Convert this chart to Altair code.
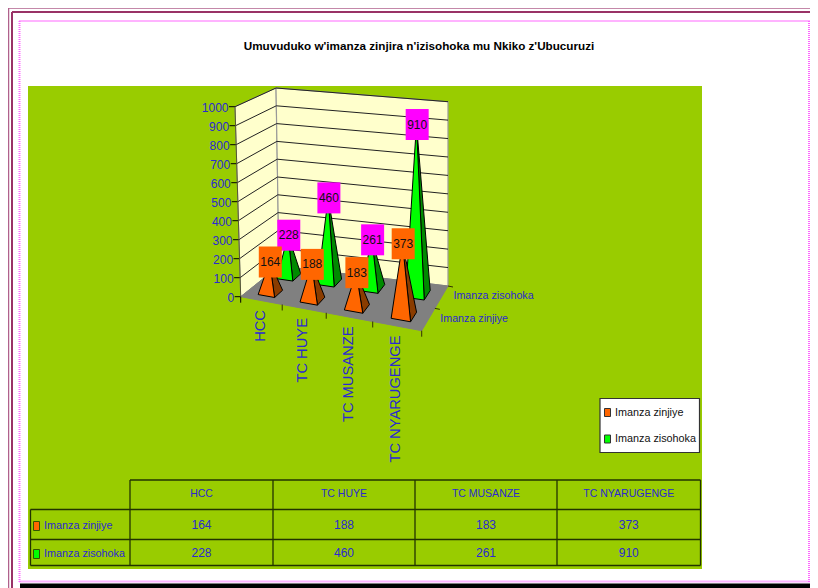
import altair as alt
import pandas as pd

title = "Umuvuduko w'imanza zinjira n'izisohoka mu Nkiko z'Ubucuruzi"
categories = ["HCC", "TC HUYE", "TC MUSANZE", "TC NYARUGENGE"]
series = ["Imanza zinjiye", "Imanza zisohoka"]
zinjiye = [164, 188, 183, 373]
zisohoka = [228, 460, 261, 910]
ticks = list(range(0, 1001, 100))

BLUE = "#2A2AD0"
GREEN_BG = "#99CC00"
NARROW = "Liberation Sans"
SANS = "Liberation Sans"

XS = alt.Scale(domain=[8, 810], nice=False, zero=False)
YS = alt.Scale(domain=[588, 8], nice=False, zero=False)
X = lambda f="x": alt.X(f + ":Q", scale=XS, axis=None)
Y = lambda f="y": alt.Y(f + ":Q", scale=YS, axis=None)

# corners of the 3-D box as drawn: floor then top
F00, F10, F01, F11 = (240.7, 296.7), (421.7, 330.7), (279, 266), (448, 286)
T00, T10, T01, T11 = (235, 106.7), (417, 134), (276, 88), (448, 101.7)


def warp(u):
    return u - 0.11 * u * (1 - u)


def bil(a, b, c, d, u, v):
    return tuple(
        a[i] * (1 - u) * (1 - v) + b[i] * u * (1 - v) + c[i] * (1 - u) * v + d[i] * u * v
        for i in (0, 1)
    )


def proj(u, v, h=0.0):
    u = warp(u)
    f = bil(F00, F10, F01, F11, u, v)
    t = bil(T00, T10, T01, T11, u, v)
    return (f[0] + (t[0] - f[0]) * h, f[1] + (t[1] - f[1]) * h)


layers = []


def poly(pts, fill, stroke=None, sw=1.0):
    df = pd.DataFrame({"x": [p[0] for p in pts], "y": [p[1] for p in pts], "o": range(len(pts))})
    kw = dict(fill=fill, interpolate="linear-closed", clip=True)
    kw.update(stroke=stroke or fill, strokeWidth=sw)
    layers.append(alt.Chart(df).mark_line(**kw).encode(x=X(), y=Y(), order="o:Q"))


def seg(a, b, color, sw=1.0, dash=None):
    df = pd.DataFrame({"x": [a[0], b[0]], "y": [a[1], b[1]], "o": [0, 1]})
    kw = dict(color=color, strokeWidth=sw, clip=True)
    if dash:
        kw["strokeDash"] = dash
    layers.append(alt.Chart(df).mark_line(**kw).encode(x=X(), y=Y(), order="o:Q"))


def rect(x0, y0, x1, y1, fill, stroke=None, sw=1.0):
    df = pd.DataFrame({"x": [x0], "x2": [x1], "y": [y0], "y2": [y1]})
    kw = dict(fill=fill)
    if stroke:
        kw.update(stroke=stroke, strokeWidth=sw)
    layers.append(
        alt.Chart(df).mark_rect(**kw).encode(x=X(), x2="x2:Q", y=Y(), y2="y2:Q")
    )


def text(x, y, s, size=11, color=BLUE, font=NARROW, align="center", angle=0, weight=None):
    df = pd.DataFrame({"x": [x], "y": [y], "t": [s]})
    kw = dict(fontSize=size, color=color, font=font, align=align, baseline="middle")
    if angle:
        kw["angle"] = angle
    if weight:
        kw["fontWeight"] = weight
    layers.append(alt.Chart(df).mark_text(**kw).encode(x=X(), y=Y(), text="t:N"))


# page frame
rect(8, 8, 810, 588, "#FFFFFF")
FR = "#993366"
seg((8.5, 8), (810, 8), "#B0618C", 1.5)
seg((8.5, 8), (8.5, 588), "#B0618C", 1.5)
seg((12, 12), (810, 12), FR, 2)
seg((12, 12), (12, 588), FR, 2)
PINK = "#FF66FF"
seg((19.5, 21), (810, 21), PINK, 2, [1, 1])
seg((19.5, 21), (19.5, 582), PINK, 2, [1, 1])
seg((809, 21), (809, 582), PINK, 2, [1, 1])
seg((19.5, 581.5), (810, 581.5), PINK, 2, [1, 1])
rect(20, 583.5, 810, 588, "#000000")

# chart panel
rect(28, 86, 702, 569, GREEN_BG)
text(419, 46, title, size=11.7, color="#000000", font=SANS, weight="bold")

# walls and floor
WALL = "#FFFFCC"
poly([F00, F01, T01, T00], WALL, "#999999", 1)
poly([F01, F11, T11, T01], WALL, "#999999", 1.2)
poly([F00, F10, F11, F01], "#808080", "#808080", 1)

# gridlines and value axis
for t in ticks:
    h = t / 1000
    a, b, c = proj(0, 0, h), proj(0, 1, h), proj(1, 1, h)
    if t:
        seg(a, b, "#222222", 1)
        seg(b, c, "#222222", 1)
    seg((a[0] - 6, a[1]), a, "#000000", 1)
    text(a[0] - 6.5, a[1] + 1, str(t), size=12, align="right")

seg(proj(0, 0, 0), proj(0, 0, 1), "#555533", 1)

# floor ticks
for i in range(0, 5):
    u = i / 4
    p = proj(u, 0)
    seg(p, (p[0], p[1] + 6), "#333300" if i else "#000000", 1)
for v in (0.5, 1.0):
    p = proj(1, v)
    seg(p, (p[0] + 5, p[1] + 1), "#333300", 1)

# axis labels
for i, c in enumerate(categories):
    p = proj((i + 0.5) / 4, 0)
    text(p[0] - 0.5, p[1] + 9.5, c, size=14.7, font=SANS, align="right", angle=270)
for v, s in zip((0.25, 0.75), series):
    p = proj(1, v)
    text(p[0] + 12, p[1] - 1, s, size=10.7, align="left")

# pyramids, back to front
DU, DV = 0.05, 0.11
colors = {0: ("#FF6600", "#8A3C00"), 1: ("#00FF00", "#008A00")}
rows = {0: (0.25, zinjiye), 1: (0.75, zisohoka)}
tips = {}
for s in (1, 0):
    v, vals = rows[s]
    for i, val in enumerate(vals):
        u = (i + 0.5) / 4
        top = proj(u, v, val / 1000)
        tips[(s, i)] = top
        a = proj(u - DU, v - DV)
        b = proj(u + DU, v - DV)
        c = proj(u + DU, v + DV)
        poly([b, c, top], colors[s][1], "#000000", 1)
        poly([a, b, top], colors[s][0], "#000000", 1)

# data labels
for s, box in ((1, "#FF00FF"), (0, "#FF6600")):
    for i, val in enumerate(rows[s][1]):
        x, y = tips[(s, i)]
        x += 0.7
        y += 0.3
        rect(x - 11.5, y - 15.5, x + 11.5, y + 15.5, box)
        text(x, y, str(val), size=12, color="#111111")

# legend
rect(600, 398.5, 699.5, 452.5, "#FFFFFF", "#333333", 1.2)
for yy, s, k in ((412.5, series[0], 0), (439, series[1], 1)):
    rect(604.5, yy - 4, 610.5, yy + 4, colors[k][0], "#333333", 1)
    text(615, yy, s, size=10.8, color="#111111", align="left")

# data table
DARK = "#223300"
xs = [130, 273, 415, 557, 700.5]
ys = [480, 509.5, 539.5, 565.5]
seg((130, ys[0]), (xs[-1], ys[0]), DARK, 1.3)
seg((30.5, ys[1]), (xs[-1], ys[1]), DARK, 1.3)
seg((30.5, ys[2]), (xs[-1], ys[2]), DARK, 1.3)
seg((30.5, ys[3]), (xs[-1], ys[3]), DARK, 1.3)
seg((30.5, ys[1]), (30.5, ys[3]), DARK, 1.3)
for x in xs:
    seg((x, ys[0]), (x, ys[3]), DARK, 1.3)
for i, c in enumerate(categories):
    cx = (xs[i] + xs[i + 1]) / 2
    text(cx, 494, c, size=10.5)
    text(cx, 524.5, str(zinjiye[i]), size=12)
    text(cx, 553, str(zisohoka[i]), size=12)
for yy, s, k in ((526, series[0], 0), (554, series[1], 1)):
    rect(33.5, yy - 4.5, 39.5, yy + 4.5, colors[k][0], "#335500", 1)
    text(44, yy, s, size=10.8, align="left")

chart = alt.layer(*layers).properties(
    width=802, height=580, padding=0, autosize="none", background="#FFFFFF"
).configure_view(stroke=None)

chart.save("out.html", embed_options={"renderer": "svg", "actions": False})
